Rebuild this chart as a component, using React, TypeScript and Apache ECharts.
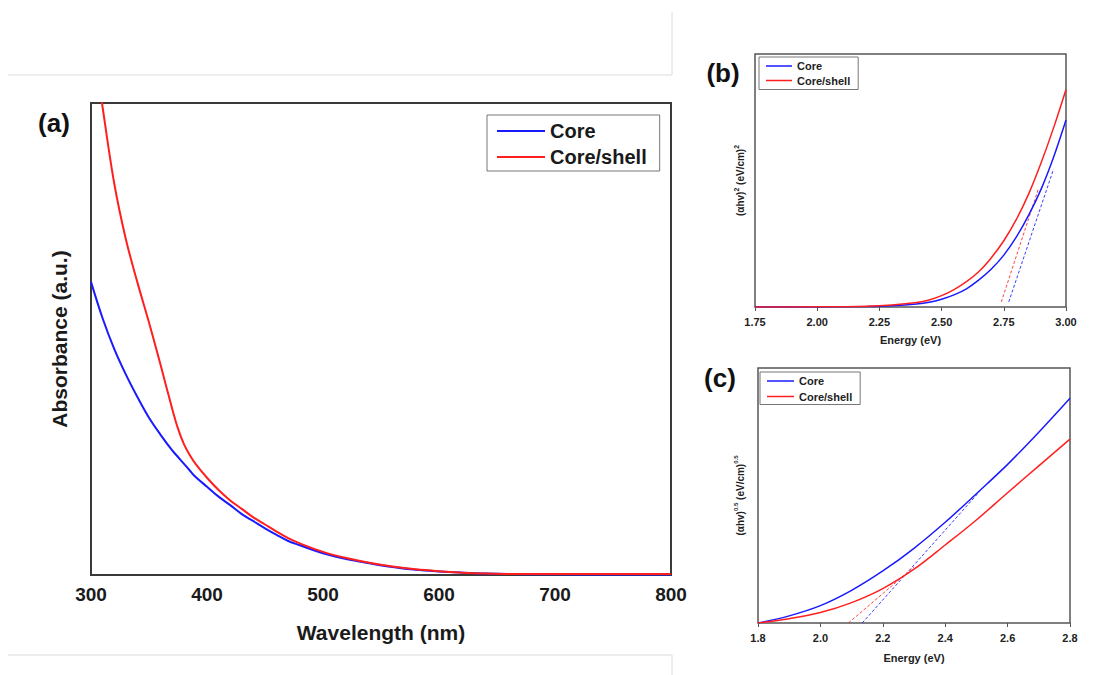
import React, { useEffect, useRef } from "react";
import * as echarts from "echarts";

// ---------- Panel (a): absorbance vs wavelength ----------
const wavelengthA = [300, 310, 320, 330, 340, 350, 360, 370, 375, 380, 385, 390, 400, 410, 420, 430, 440, 450, 460, 470, 480, 500, 520, 540, 560, 580, 600, 620, 640, 660, 700, 750, 800];
const coreA = [0.621, 0.544, 0.479, 0.425, 0.377, 0.333, 0.297, 0.264, 0.25, 0.236, 0.222, 0.208, 0.187, 0.166, 0.148, 0.129, 0.114, 0.099, 0.085, 0.072, 0.063, 0.046, 0.034, 0.025, 0.017, 0.011, 0.0075, 0.005, 0.003, 0.002, 0.0015, 0.001, 0.001];
const shellA = [1.16, 0.991, 0.83, 0.712, 0.62, 0.535, 0.445, 0.352, 0.31, 0.278, 0.255, 0.236, 0.206, 0.18, 0.158, 0.14, 0.122, 0.107, 0.092, 0.078, 0.067, 0.049, 0.036, 0.026, 0.018, 0.012, 0.008, 0.005, 0.003, 0.002, 0.002, 0.002, 0.002];

// ---------- Panel (b): (αhv)^2 vs energy ----------
const energyB = [1.75, 2.0, 2.2, 2.3, 2.4, 2.45, 2.5, 2.55, 2.6, 2.65, 2.7, 2.75, 2.8, 2.85, 2.9, 2.95, 3.0];
const coreB = [0, 0.0003, 0.002, 0.005, 0.012, 0.019, 0.031, 0.048, 0.072, 0.107, 0.15, 0.205, 0.276, 0.363, 0.466, 0.592, 0.739];
const shellB = [0, 0.0005, 0.003, 0.008, 0.018, 0.028, 0.045, 0.069, 0.1, 0.14, 0.195, 0.262, 0.345, 0.447, 0.57, 0.708, 0.86];
const coreFitBx = [2.77, 2.95];
const coreFitBy = [0.02, 0.545];
const shellFitBx = [2.74, 2.89];
const shellFitBy = [0.02, 0.47];

// ---------- Panel (c): (αhv)^0.5 vs energy ----------
const energyC = [1.8, 1.9, 2.0, 2.1, 2.2, 2.3, 2.4, 2.5, 2.6, 2.7, 2.8];
const coreC = [0, 0.028, 0.068, 0.128, 0.204, 0.293, 0.395, 0.507, 0.622, 0.748, 0.881];
const shellC = [0, 0.017, 0.041, 0.08, 0.135, 0.211, 0.306, 0.404, 0.511, 0.616, 0.721];
const coreFitCx = [2.134, 2.51];
const coreFitCy = [0, 0.515];
const shellFitCx = [2.09, 2.3];
const shellFitCy = [0, 0.22];

const ticksA = [300, 400, 500, 600, 700, 800];
const legendNames = ["Core", "Core/shell"];

const BLUE = "#1a1aff";
const RED = "#ff1f1f";
const FONT = 'Arial, "Liberation Sans", sans-serif';

const zip = (xs: number[], ys: number[]) => xs.map((x, i) => [x, ys[i]]);

export default function App() {
  const ref = useRef<HTMLDivElement>(null);
  useEffect(() => {
    document.body.style.margin = "0";
    const chart = echarts.init(ref.current!, null, { renderer: "svg" });

    const mainLine = (name: string, color: string, data: number[][], idx: number, width: number) => ({
      name,
      type: "line",
      xAxisIndex: idx,
      yAxisIndex: idx,
      data,
      showSymbol: false,
      symbol: "none",
      smooth: 0.35,
      clip: true,
      lineStyle: { color, width },
      itemStyle: { color },
      z: 3,
    });
    const fitLine = (name: string, color: string, data: number[][], idx: number) => ({
      name,
      type: "line",
      xAxisIndex: idx,
      yAxisIndex: idx,
      data,
      showSymbol: false,
      symbol: "none",
      lineStyle: { color, width: 1, type: [3, 2], opacity: 0.85 },
      itemStyle: { color },
      z: 2,
    });

    const smallXAxis = (idx: number, min: number, max: number, interval: number, digits: number, gap: number) => ({
      type: "value",
      gridIndex: idx,
      min,
      max,
      interval,
      name: "Energy (eV)",
      nameLocation: "middle",
      nameGap: gap,
      nameTextStyle: { fontFamily: FONT, fontWeight: "bold", fontSize: 11, color: "#222" },
      axisLine: { show: false },
      axisTick: { show: true, inside: false, length: 4, lineStyle: { color: "#555", width: 1 } },
      axisLabel: {
        margin: 9,
        fontFamily: FONT,
        fontWeight: "bold",
        fontSize: 11,
        color: "#222",
        formatter: (v: number) => v.toFixed(digits),
      },
      splitLine: { show: false },
    });

    const smallYAxis = (idx: number, name: string, gap: number, supSize: number) => ({
      type: "value",
      gridIndex: idx,
      min: 0,
      max: 1,
      name,
      nameLocation: "middle",
      nameGap: gap,
      nameTextStyle: {
        fontFamily: FONT,
        fontWeight: "bold",
        fontSize: 10,
        color: "#222",
        rich: {
          n: { fontFamily: FONT, fontWeight: "bold", fontSize: 10, color: "#222", lineHeight: 12, verticalAlign: "bottom" },
          s: { fontFamily: FONT, fontWeight: "bold", fontSize: supSize, color: "#222", lineHeight: 12, verticalAlign: "top" },
        },
      },
      axisLine: { show: false },
      axisTick: { show: false },
      axisLabel: { show: false },
      splitLine: { show: false },
    });

    const option: any = {
      animation: false,
      backgroundColor: "#ffffff",
      grid: [
        { left: 91, top: 103, width: 580, height: 472, show: true, borderColor: "#3a3a3a", borderWidth: 2, backgroundColor: "transparent" },
        { left: 755, top: 54, width: 311, height: 253, show: true, borderColor: "#555", borderWidth: 1.5, backgroundColor: "transparent" },
        { left: 758, top: 368, width: 312, height: 255, show: true, borderColor: "#555", borderWidth: 1.5, backgroundColor: "transparent" },
      ],
      xAxis: [
        {
          type: "value",
          gridIndex: 0,
          min: ticksA[0],
          max: ticksA[ticksA.length - 1],
          interval: 100,
          name: "Wavelength (nm)",
          nameLocation: "middle",
          nameGap: 47,
          nameTextStyle: { fontFamily: FONT, fontWeight: "bold", fontSize: 21, color: "#1a1a1a" },
          axisLine: { show: false },
          axisTick: { show: false },
          axisLabel: { margin: 10, fontFamily: FONT, fontWeight: "bold", fontSize: 19, color: "#1a1a1a" },
          splitLine: { show: false },
        },
        smallXAxis(1, 1.75, 3.0, 0.25, 2, 27),
        smallXAxis(2, 1.8, 2.8, 0.2, 1, 29),
      ],
      yAxis: [
        {
          type: "value",
          gridIndex: 0,
          min: 0,
          max: 1,
          name: "Absorbance (a.u.)",
          nameLocation: "middle",
          nameGap: 21,
          nameTextStyle: { fontFamily: FONT, fontWeight: "bold", fontSize: 21, color: "#1a1a1a" },
          axisLine: { show: false },
          axisTick: { show: false },
          axisLabel: { show: false },
          splitLine: { show: false },
        },
        smallYAxis(1, "{n|(αhv)}{s|2}{n| (eV/cm)}{s|2}", 10, 7),
        smallYAxis(2, "{n|(αhv)}{s|0.5}{n| (eV/cm)}{s|0.5}", 13, 6),
      ],
      legend: [
        {
          data: legendNames.map((n) => ({ name: n, icon: "rect" })),
          orient: "vertical",
          left: 487,
          top: 115,
          padding: [5, 13, 3, 10],
          itemGap: 4,
          itemWidth: 48,
          itemHeight: 2,
          itemStyle: { borderWidth: 0 },
          borderColor: "#777",
          borderWidth: 1,
          selectedMode: false,
          textStyle: { fontFamily: FONT, fontWeight: "bold", fontSize: 20, color: "#1a1a1a", lineHeight: 22 },
        },
        {
          data: legendNames.map((n) => ({ name: n, icon: "rect" })),
          orient: "vertical",
          left: 759,
          top: 57,
          padding: [3, 8, 3, 7],
          itemGap: 2.5,
          itemWidth: 26,
          itemHeight: 1.5,
          itemStyle: { borderWidth: 0 },
          borderColor: "#777",
          borderWidth: 1,
          selectedMode: false,
          textStyle: { fontFamily: FONT, fontWeight: "bold", fontSize: 11, color: "#222", lineHeight: 12 },
        },
        {
          data: legendNames.map((n) => ({ name: n, icon: "rect" })),
          orient: "vertical",
          left: 760,
          top: 372,
          padding: [3, 8, 2, 7],
          itemGap: 3.5,
          itemWidth: 27,
          itemHeight: 1.5,
          itemStyle: { borderWidth: 0 },
          borderColor: "#777",
          borderWidth: 1,
          selectedMode: false,
          textStyle: { fontFamily: FONT, fontWeight: "bold", fontSize: 11, color: "#222", lineHeight: 12 },
        },
      ],
      series: [
        mainLine("Core", BLUE, zip(wavelengthA, coreA), 0, 2),
        mainLine("Core/shell", RED, zip(wavelengthA, shellA), 0, 2),
        mainLine("Core", BLUE, zip(energyB, coreB), 1, 1.5),
        mainLine("Core/shell", RED, zip(energyB, shellB), 1, 1.5),
        fitLine("Core fit (b)", BLUE, zip(coreFitBx, coreFitBy), 1),
        fitLine("Core/shell fit (b)", RED, zip(shellFitBx, shellFitBy), 1),
        mainLine("Core", BLUE, zip(energyC, coreC), 2, 1.5),
        mainLine("Core/shell", RED, zip(energyC, shellC), 2, 1.5),
        fitLine("Core fit (c)", BLUE, zip(coreFitCx, coreFitCy), 2),
        fitLine("Core/shell fit (c)", RED, zip(shellFitCx, shellFitCy), 2),
      ],
      graphic: [
        { type: "line", shape: { x1: 8, y1: 75, x2: 672, y2: 75 }, style: { stroke: "#dcdcdc", lineWidth: 1 } },
        { type: "line", shape: { x1: 672, y1: 12, x2: 672, y2: 75 }, style: { stroke: "#dcdcdc", lineWidth: 1 } },
        { type: "line", shape: { x1: 8, y1: 655, x2: 672, y2: 655 }, style: { stroke: "#dcdcdc", lineWidth: 1 } },
        { type: "line", shape: { x1: 672, y1: 655, x2: 672, y2: 675 }, style: { stroke: "#dcdcdc", lineWidth: 1 } },
        { type: "text", x: 54, y: 123, style: { text: "(a)", font: `bold 26px ${FONT}`, fill: "#111", textAlign: "center", textVerticalAlign: "middle" } },
        { type: "text", x: 723, y: 73, style: { text: "(b)", font: `bold 26px ${FONT}`, fill: "#111", textAlign: "center", textVerticalAlign: "middle" } },
        { type: "text", x: 720, y: 378, style: { text: "(c)", font: `bold 26px ${FONT}`, fill: "#111", textAlign: "center", textVerticalAlign: "middle" } },
      ],
    };

    chart.setOption(option);
    return () => chart.dispose();
  }, []);
  return <div ref={ref} style={{ width: 1114, height: 675 }} />;
}
